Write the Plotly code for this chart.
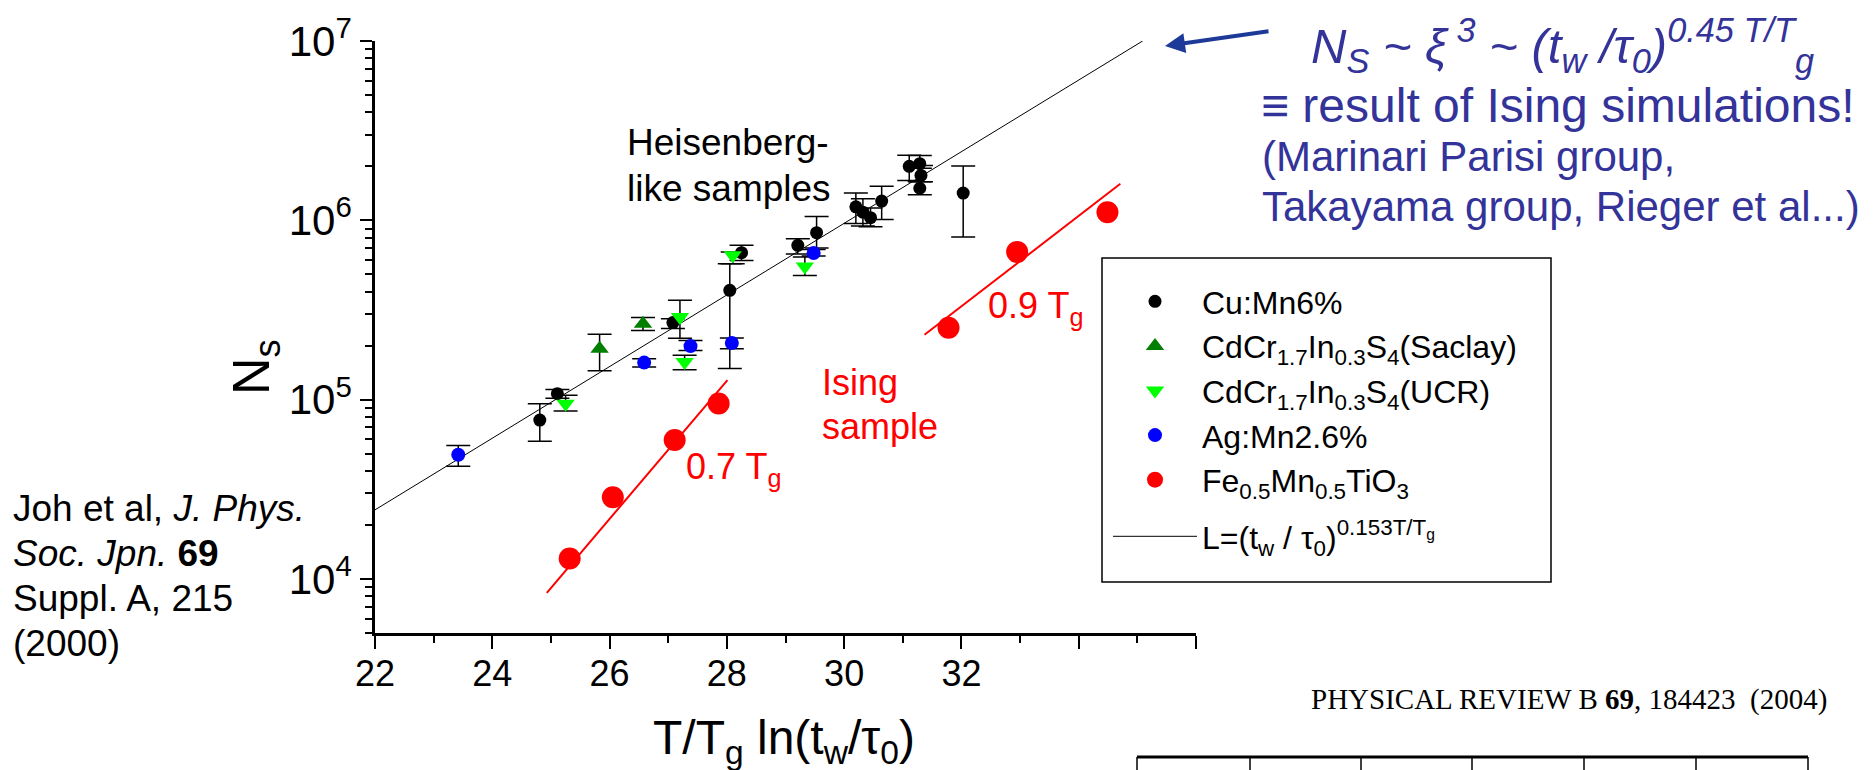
import math
import plotly.graph_objects as go

# ---------------- data ----------------
cu_x = [24.81, 25.11, 27.08, 28.05, 28.25, 29.21, 29.53, 30.20, 30.32, 30.45, 30.64, 31.11, 31.29, 31.31, 31.29, 32.03]
cu_y = [7.7e4, 1.08e5, 2.69e5, 4.07e5, 6.6e5, 7.26e5, 8.54e5, 1.19e6, 1.11e6, 1.035e6, 1.28e6, 2.0e6, 2.07e6, 1.78e6, 1.51e6, 1.42e6]
cu_hi = [9.5e4, 1.14e5, 2.83e5, 5.73e5, 7.26e5, 7.9e5, 1.05e6, 1.42e6, 1.32e6, 1.17e6, 1.55e6, 2.31e6, 2.3e6, 2.02e6, 1.64e6, 2.01e6]
cu_lo = [5.86e4, 1.02e5, 2.49e5, 1.49e5, 5.98e5, 6.5e5, 7.0e5, 9.6e5, 9.3e5, 9.2e5, 1.01e6, 1.67e6, 1.95e6, 1.64e6, 1.39e6, 8.07e5]

sac_x = [25.83, 26.57]
sac_y = [1.92e5, 2.65e5]
sac_hi = [2.32e5, 2.87e5]
sac_lo = [1.45e5, 2.43e5]

ucr_x = [25.25, 27.20, 27.28, 28.10, 29.33]
ucr_y = [9.5e4, 2.89e5, 1.62e5, 6.38e5, 5.53e5]
ucr_hi = [1.06e5, 3.58e5, 1.77e5, 6.65e5, 6.24e5]
ucr_lo = [8.65e4, 2.2e5, 1.47e5, 5.73e5, 4.93e5]

ag_x = [23.42, 26.59, 27.38, 28.085, 29.48]
ag_y = [4.93e4, 1.61e5, 1.99e5, 2.07e5, 6.58e5]
ag_hi = [5.56e4, 1.69e5, 2.14e5, 2.21e5, 6.87e5]
ag_lo = [4.25e4, 1.52e5, 1.88e5, 1.92e5, 6.33e5]

fe_x = [25.32, 26.055, 27.11, 27.86, 31.78, 32.95, 34.49]
fe_y = [1.30e4, 2.86e4, 5.96e4, 9.52e4, 2.52e5, 6.67e5, 1.11e6]

heis_fit_x = [22.0, 35.09]
heis_fit_y = [2.43e4, 1.0e7]
ising07_x = [24.93, 28.01]
ising07_y = [8.38e3, 1.285e5]
ising09_x = [31.37, 34.71]
ising09_y = [2.30e5, 1.60e6]

x_major = [22, 24, 26, 28, 30, 32, 34, 36]
x_major_text = ["22", "24", "26", "28", "30", "32", "", ""]
x_minor = [23, 25, 27, 29, 31, 33, 35]
y_major = [1e4, 1e5, 1e6, 1e7]
y_major_text = ["10<sup>4</sup>", "10<sup>5</sup>", "10<sup>6</sup>", "10<sup>7</sup>"]

# ---------------- layout geometry ----------------
W, H = 1876, 770
OFF = 8                      # page body margin of the html wrapper
L, R, T, B = 375 - OFF, 1196 - OFF, 41 - OFF, 633 - OFF   # plot area in figure px
PW, PH = R - L, B - T
FONT = "Liberation Sans, Arial, Helvetica, sans-serif"


def px(xp, yp):
    """screen position (as in the reference) -> paper coordinates"""
    return (xp - OFF - L) / PW, (B - (yp - OFF)) / PH


def err(y, hi, lo):
    return dict(type="data", symmetric=False,
                array=[h - v for v, h in zip(y, hi)],
                arrayminus=[v - l for v, l in zip(y, lo)],
                color="black", thickness=1.5, width=12)


fig = go.Figure()

fig.add_trace(go.Scatter(x=heis_fit_x, y=heis_fit_y, mode="lines",
                         line=dict(color="black", width=1),
                         name="L=(t<sub>w</sub> / τ<sub>0</sub>)<sup>0.153T/T<sub>g</sub></sup>",
                         legendrank=6, legendgroup="fit"))
fig.add_trace(go.Scatter(x=ising07_x, y=ising07_y, mode="lines",
                         line=dict(color="#ff0000", width=2), showlegend=False))
fig.add_trace(go.Scatter(x=ising09_x, y=ising09_y, mode="lines",
                         line=dict(color="#ff0000", width=2), showlegend=False))

fig.add_trace(go.Scatter(x=cu_x, y=cu_y, mode="markers", name="Cu:Mn6%",
                         marker=dict(color="black", size=13, symbol="circle"),
                         error_y=err(cu_y, cu_hi, cu_lo), legendrank=1, legendgroup="pts"))
fig.add_trace(go.Scatter(x=sac_x, y=sac_y, mode="markers",
                         name="CdCr<sub>1.7</sub>In<sub>0.3</sub>S<sub>4</sub>(Saclay)",
                         marker=dict(color="#007f00", size=16, symbol="triangle-up"),
                         error_y=err(sac_y, sac_hi, sac_lo), legendrank=2, legendgroup="pts"))
fig.add_trace(go.Scatter(x=ucr_x, y=ucr_y, mode="markers",
                         name="CdCr<sub>1.7</sub>In<sub>0.3</sub>S<sub>4</sub>(UCR)",
                         marker=dict(color="#00ff00", size=16, symbol="triangle-down"),
                         error_y=err(ucr_y, ucr_hi, ucr_lo), legendrank=3, legendgroup="pts"))
fig.add_trace(go.Scatter(x=ag_x, y=ag_y, mode="markers", name="Ag:Mn2.6%",
                         marker=dict(color="#0000ff", size=14, symbol="circle"),
                         error_y=err(ag_y, ag_hi, ag_lo), legendrank=4, legendgroup="pts"))
fig.add_trace(go.Scatter(x=fe_x, y=fe_y, mode="markers",
                         name="Fe<sub>0.5</sub>Mn<sub>0.5</sub>TiO<sub>3</sub>",
                         marker=dict(color="#ff0000", size=22, symbol="circle"),
                         legendrank=5, legendgroup="pts"))

# ---------------- annotations ----------------
ann = []


def text(xp, yp, s, size, color="black", family=FONT, xanchor="left", yanchor="middle", angle=0):
    x, y = px(xp, yp)
    ann.append(dict(x=x, y=y, xref="paper", yref="paper", text=s, showarrow=False,
                    xanchor=xanchor, yanchor=yanchor, textangle=angle,
                    font=dict(size=size, color=color, family=family), borderpad=0))


# in-plot labels
text(626, 143, "Heisenberg-", 37)
text(626, 188, "like samples", 37)
text(821, 383, "Ising", 36, "#ff0000")
text(821, 427, "sample", 36, "#ff0000")
text(685, 469, "0.7 T<sub>g</sub>", 36, "#ff0000")
text(987, 308, "0.9 T<sub>g</sub>", 36, "#ff0000")

# axis titles
text(652, 741, "T/T<sub>g</sub> ln(t<sub>w</sub>/τ<sub>0</sub>)", 48, xanchor="left")
text(255, 367, "N<sub>s</sub>", 52, xanchor="center", angle=-90)

# citation
text(12, 508, "Joh et al, <i>J. Phys.</i>", 37)
text(12, 553, "<i>Soc. Jpn.</i> <b>69</b>", 37)
text(12, 598, "Suppl. A, 215", 37)
text(12, 643, "(2000)", 37)

text(1310, 699, "PHYSICAL REVIEW B <b>69</b>, 184423&nbsp; (2004)", 29,
     family="Liberation Serif, Times New Roman, serif")

# top-right text
BLUE_TXT = "#333399"
text(1310, 45, "<i>N<sub>S</sub> ~ ξ<sup> 3</sup> ~ (t<sub>w</sub> /τ<sub>0</sub>)<sup>0.45 T/T</sup><sub>g</sub></i>",
     49, BLUE_TXT)
text(1260, 106, "≡ result of Ising simulations!", 48, BLUE_TXT)
text(1261, 156, "(Marinari Parisi group,", 42, BLUE_TXT)
text(1261, 206, "Takayama group, Rieger et al...)", 42, BLUE_TXT)

# arrow
hx, hy = px(1165, 46)
ann.append(dict(x=hx, y=hy, xref="paper", yref="paper", text="", showarrow=True,
                ax=105, ay=-15, axref="pixel", ayref="pixel",
                arrowhead=2, arrowsize=1, arrowwidth=4, arrowcolor="#1d3a98"))

# ---------------- shapes ----------------
shapes = []
x0, y0 = px(1102, 258)
x1, y1 = px(1551, 582)
shapes.append(dict(type="rect", xref="paper", yref="paper", x0=x0, y0=y0, x1=x1, y1=y1,
                   line=dict(color="black", width=1.5), fillcolor="rgba(0,0,0,0)", layer="below"))

table_cols = [1137, 1250, 1361, 1472, 1584, 1696, 1808]
tx0, ty = px(table_cols[0], 757)
tx1, _ = px(table_cols[-1], 757)
_, tyb = px(0, 785)
shapes.append(dict(type="line", xref="paper", yref="paper", x0=tx0, y0=ty, x1=tx1, y1=ty,
                   line=dict(color="black", width=3)))
for c in table_cols:
    cx, _ = px(c, 0)
    shapes.append(dict(type="line", xref="paper", yref="paper", x0=cx, y0=ty, x1=cx, y1=tyb,
                       line=dict(color="black", width=1.5)))

lx, ly = px(1108, 274)

fig.update_layout(
    width=W, height=H,
    margin=dict(l=L, r=W - R, t=T, b=H - B, pad=0, autoexpand=False),
    paper_bgcolor="white", plot_bgcolor="white",
    font=dict(family=FONT, color="black"),
    annotations=ann, shapes=shapes,
    legend=dict(x=lx, y=ly, xanchor="left", yanchor="top", xref="paper", yref="paper",
                bgcolor="rgba(0,0,0,0)", borderwidth=0, itemwidth=84,
                font=dict(size=32, family=FONT, color="black"),
                tracegroupgap=12, traceorder="grouped", groupclick="toggleitem"),
    showlegend=True,
)

fig.update_xaxes(range=[22, 36], showgrid=False, zeroline=False, automargin=False,
                 showline=True, linecolor="black", linewidth=2.5,
                 ticks="outside", ticklen=13, tickwidth=2, tickcolor="black",
                 ticklabelstandoff=-6,
                 tickmode="array", tickvals=x_major, ticktext=x_major_text,
                 tickfont=dict(size=36, family=FONT, color="black"),
                 minor=dict(tickmode="array", tickvals=x_minor, ticks="outside",
                            ticklen=7, tickwidth=2, tickcolor="black"))

y_minor = [k * 10 ** d for d in range(3, 7) for k in range(2, 10)]
fig.update_yaxes(type="log", range=[math.log10(5000), 7], showgrid=False, zeroline=False,
                 automargin=False,
                 showline=True, linecolor="black", linewidth=2.5,
                 ticks="outside", ticklen=12, tickwidth=2, tickcolor="black",
                 tickmode="array", tickvals=y_major, ticktext=y_major_text,
                 tickfont=dict(size=42, family=FONT, color="black"),
                 minor=dict(tickmode="array", tickvals=y_minor, ticks="outside",
                            ticklen=7, tickwidth=2, tickcolor="black"))

fig.write_html("out.html")
